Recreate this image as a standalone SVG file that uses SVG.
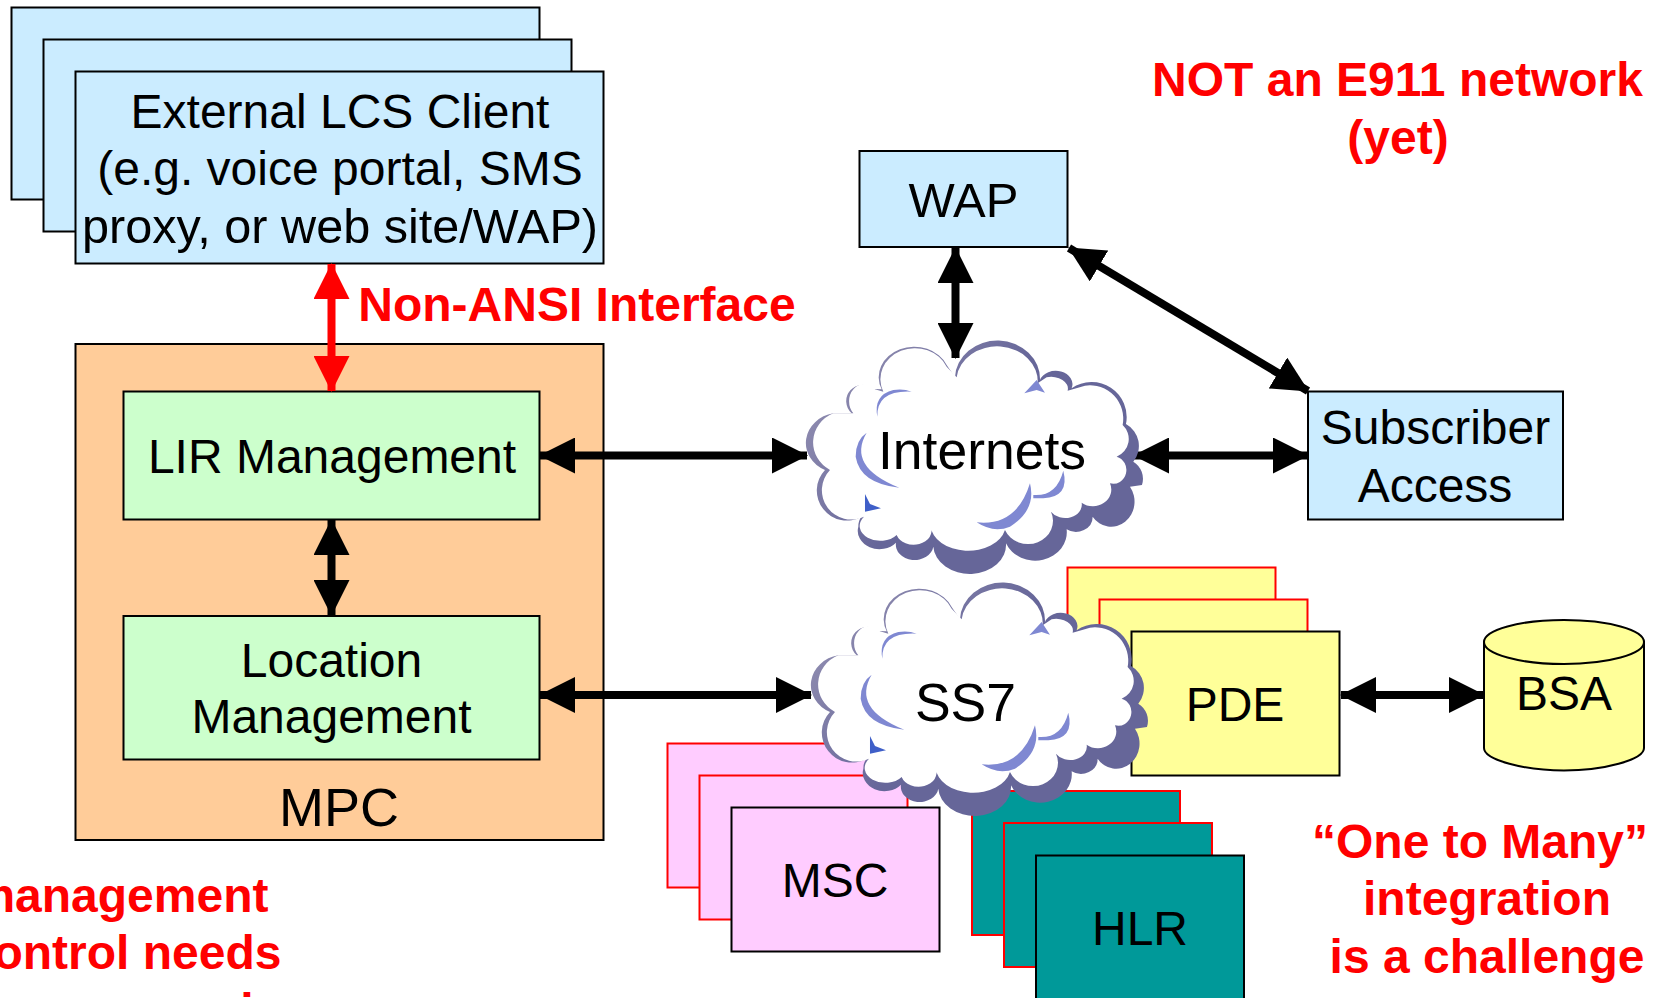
<svg xmlns="http://www.w3.org/2000/svg" width="1654" height="998" viewBox="0 0 1654 998">
<style>
text{font-family:"Liberation Sans",Arial,sans-serif;font-size:48px;fill:#000;text-anchor:middle}
.r{font-weight:bold;fill:#f00;font-size:48px}
.bx{stroke:#000;stroke-width:2}
.rb{stroke:#f00;stroke-width:2}
.blue{fill:#cbecff}.green{fill:#ccffcc}.org{fill:#ffcc99}.yel{fill:#ffff99}.pink{fill:#ffccff}.teal{fill:#009999}
.cn{fill:none;stroke:#000;stroke-width:8}
.hl{fill:#7f88d2}
</style>
<defs>
<marker id="a" markerUnits="userSpaceOnUse" markerWidth="36" markerHeight="36" refX="35" refY="18" orient="auto-start-reverse" viewBox="0 0 36 36"><path d="M0 0L36 18L0 36Z" fill="#000"/></marker>
<marker id="ar" markerUnits="userSpaceOnUse" markerWidth="36" markerHeight="36" refX="35" refY="18" orient="auto-start-reverse" viewBox="0 0 36 36"><path d="M0 0L36 18L0 36Z" fill="#f00"/></marker>
<linearGradient id="rim" gradientUnits="userSpaceOnUse" x1="200" y1="150" x2="800" y2="650"><stop offset="0" stop-color="#8f8cb0"/><stop offset=".55" stop-color="#666699"/></linearGradient>
<g id="cloud">
<path fill="url(#rim)" d="M555 172A125 112 0 0 1 810 180A50 40 0 0 1 905 205A105 105 0 0 1 1068 312A75 75 0 0 1 1090 425A60 60 0 0 1 1116 495L1080 500A60 65 0 0 1 968 590A50 45 0 0 1 890 628A95 85 0 0 1 708 670A108 86 0 0 1 490 680A55 45 0 0 1 378 668A65 55 0 0 1 265 620Q265 600 275 590A90 90 0 0 1 165 450A100 90 0 0 1 190 280L245 280A40 40 0 0 1 310 207L335 208A105 90 0 0 1 530 135Z"/>
<path fill="#fff" d="M560 172A122 105 0 0 1 803 190L830 172A50 35 0 0 1 893 212L945 197A100 100 0 0 1 1058 315A57 57 0 0 1 1040 410A38 40 0 0 1 1020 490A55 50 0 0 1 935 548A50 40 0 0 1 843 575A70 65 0 0 1 705 630A113 80 0 0 1 482 618A50 40 0 0 1 380 645A55 40 0 0 1 282 590A88 88 0 0 1 180 450A100 95 0 0 1 190 280L250 280A35 40 0 0 1 315 208L340 215A95 85 0 0 1 530 140Z"/>
<path class="hl" d="M322 290Q320 210 425 215Q400 205 370 210Q310 225 322 290Z"/>
<path class="hl" d="M290 338Q230 440 388 503Q270 490 257 410Q257 360 290 338Z"/>
<path fill="#3f5fc8" d="M285 522L300 552L333 565L285 575Z"/>
<path class="hl" d="M620 607Q740 620 780 490Q800 570 720 620Q670 640 620 607Z"/>
<path class="hl" d="M790 525Q860 530 880 452Q900 530 820 535L790 535Z"/>
<path class="hl" d="M763 220L800 180L825 218L800 210Z"/>
</g>
</defs>

<g id="external-lcs-client">
<rect class="bx blue" x="11.5" y="7.5" width="528" height="192"/>
<rect class="bx blue" x="43.5" y="39.5" width="528" height="192"/>
<rect class="bx blue" x="75.5" y="71.5" width="528" height="192"/>
<text x="340" y="128">External LCS Client</text>
<text x="340" y="185">(e.g. voice portal, SMS</text>
<text x="340" y="243" textLength="516" lengthAdjust="spacingAndGlyphs">proxy, or web site/WAP)</text>
</g>
<g id="mpc">
<rect class="bx org" x="75.5" y="344" width="528" height="496"/>
<text x="339" y="826" style="font-size:54px">MPC</text>
</g>
<g id="lir-management">
<rect class="bx green" x="123.5" y="391.5" width="416" height="128"/>
<text x="332" y="473">LIR Management</text>
</g>
<g id="location-management">
<rect class="bx green" x="123.5" y="616" width="416" height="143.5"/>
<text x="331.500" y="677">Location</text>
<text x="331.500" y="733">Management</text>
</g>
<g id="wap">
<rect class="bx blue" x="859.5" y="151" width="208" height="96"/>
<text x="963.500" y="217" style="font-size:49px">WAP</text>
</g>
<g id="subscriber-access">
<rect class="bx blue" x="1308" y="391.5" width="255" height="128"/>
<text x="1435.500" y="444">Subscriber</text>
<text x="1435" y="502">Access</text>
</g>
<g id="pde">
<rect class="rb yel" x="1067.5" y="567.5" width="208" height="144"/>
<rect class="rb yel" x="1099.5" y="599.5" width="208" height="144"/>
<rect class="bx yel" x="1131.5" y="631.5" width="208" height="144"/>
<text x="1235" y="721">PDE</text>
</g>
<g id="msc">
<rect class="rb pink" x="667.5" y="743.5" width="208" height="144"/>
<rect class="rb pink" x="699.5" y="775.5" width="208" height="144"/>
<rect class="bx pink" x="731.5" y="807.5" width="208" height="144"/>
<text x="835" y="897">MSC</text>
</g>
<g id="hlr">
<rect class="rb teal" x="972" y="791" width="208" height="144"/>
<rect class="rb teal" x="1004" y="823" width="208" height="144"/>
<rect class="bx teal" x="1036" y="855.5" width="208" height="144"/>
<text x="1140" y="945">HLR</text>
</g>
<g id="bsa">
<path class="bx yel" d="M1484 642V748C1484 760 1525 770.500 1564 770.500C1603 770.500 1644 760 1644 748V642Z"/>
<ellipse class="bx yel" cx="1564" cy="642" rx="80" ry="22"/>
<text x="1564" y="710">BSA</text>
</g>
<g id="connectors">
<path class="cn" style="stroke:#f00" marker-start="url(#ar)" marker-end="url(#ar)" d="M331.500 264V391"/>
<path class="cn" marker-start="url(#a)" marker-end="url(#a)" d="M331.500 520V615"/>
<path class="cn" marker-start="url(#a)" marker-end="url(#a)" d="M540 455.500H807"/>
<path class="cn" marker-start="url(#a)" marker-end="url(#a)" d="M540 695H811"/>
<path class="cn" marker-start="url(#a)" marker-end="url(#a)" d="M955.500 248V358"/>
<path class="cn" marker-start="url(#a)" marker-end="url(#a)" d="M1069 248L1308 391"/>
<path class="cn" marker-start="url(#a)" marker-end="url(#a)" d="M1134 455.500H1308"/>
<path class="cn" marker-start="url(#a)" marker-end="url(#a)" d="M1341 695H1484"/>
</g>
<g id="internets">
<use href="#cloud" transform="translate(770 320) scale(.3333)"/>
<text x="982" y="469" style="font-size:53.500px">Internets</text>
</g>
<g id="ss7">
<use href="#cloud" transform="translate(775 562) scale(.3333)"/>
<text x="965.500" y="721" style="font-size:53.500px">SS7</text>
</g>
<g id="notes">
<text class="r" x="1397.500" y="96">NOT an E911 network</text>
<text class="r" x="1398" y="154">(yet)</text>
<text class="r" x="577" y="321">Non-ANSI Interface</text>
<text class="r" x="268.500" y="912" style="text-anchor:end">management</text>
<text class="r" x="281.500" y="969" style="text-anchor:end">control needs</text>
<text class="r" x="247" y="1027">i</text>
<text class="r" x="1480" y="858">“One to Many”</text>
<text class="r" x="1487" y="915">integration</text>
<text class="r" x="1487" y="973">is a challenge</text>
</g>
</svg>
